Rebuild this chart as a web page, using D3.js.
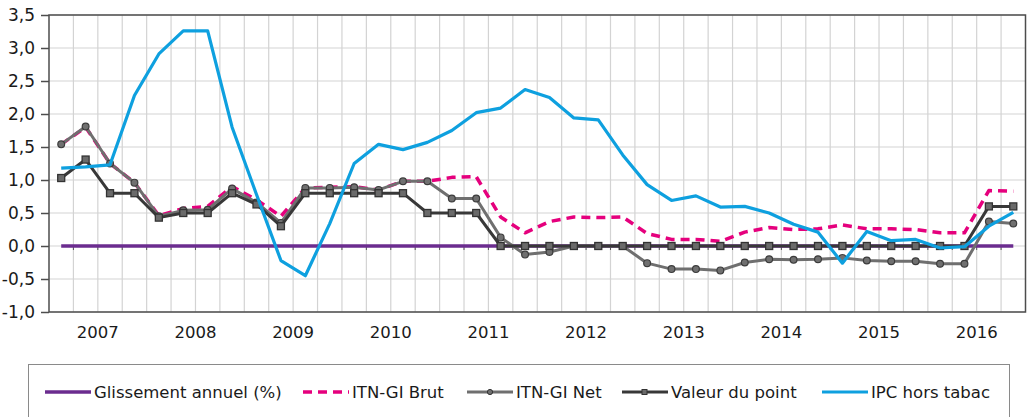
<!DOCTYPE html>
<html>
<head>
<meta charset="utf-8">
<script src="https://cdn.jsdelivr.net/npm/d3@7"></script>
<style>
  body { margin: 0; background: #fff; }
  svg text { font-family: "DejaVu Sans", sans-serif; fill: #1a1a1a; }
</style>
</head>
<body>
<svg width="1031" height="417"></svg>
<script>
// quarterly data, 2007 T1 -> 2016 T4
const years = [2007, 2008, 2009, 2010, 2011, 2012, 2013, 2014, 2015, 2016]
const quarters = ['T1', 'T2', 'T3', 'T4']

const glissement = [0, 0, 0, 0, 0, 0, 0, 0, 0, 0, 0, 0, 0, 0, 0, 0, 0, 0, 0, 0,
  0, 0, 0, 0, 0, 0, 0, 0, 0, 0, 0, 0, 0, 0, 0, 0, 0, 0, 0, 0]
const itnBrut = [1.54, 1.80, 1.25, 0.96, 0.46, 0.57, 0.60, 0.90, 0.70, 0.45,
  0.88, 0.89, 0.90, 0.85, 0.98, 0.98, 1.04, 1.05, 0.44, 0.20,
  0.37, 0.44, 0.43, 0.44, 0.19, 0.10, 0.10, 0.07, 0.21, 0.28,
  0.25, 0.26, 0.32, 0.26, 0.26, 0.25, 0.20, 0.20, 0.84, 0.83]
const itnNet = [1.54, 1.81, 1.25, 0.96, 0.45, 0.54, 0.55, 0.87, 0.66, 0.35,
  0.88, 0.88, 0.89, 0.85, 0.98, 0.98, 0.72, 0.72, 0.13, -0.13,
  -0.09, 0.0, 0.0, 0.0, -0.26, -0.35, -0.35, -0.37, -0.25, -0.20,
  -0.21, -0.20, -0.18, -0.22, -0.23, -0.23, -0.27, -0.27, 0.37, 0.34]
const valeurPoint = [1.03, 1.31, 0.80, 0.80, 0.43, 0.50, 0.50, 0.80, 0.63, 0.30,
  0.80, 0.80, 0.80, 0.80, 0.80, 0.50, 0.50, 0.50, 0.0, 0.0,
  0.0, 0.0, 0.0, 0.0, 0.0, 0.0, 0.0, 0.0, 0.0, 0.0,
  0.0, 0.0, 0.0, 0.0, 0.0, 0.0, 0.0, 0.0, 0.60, 0.60]
const ipcHorsTabac = [1.18, 1.20, 1.23, 2.28, 2.91, 3.26, 3.26, 1.80, 0.78, -0.22,
  -0.45, 0.34, 1.25, 1.54, 1.46, 1.57, 1.75, 2.02, 2.09, 2.37,
  2.25, 1.94, 1.91, 1.38, 0.93, 0.69, 0.76, 0.59, 0.60, 0.50,
  0.33, 0.21, -0.26, 0.22, 0.08, 0.10, -0.03, -0.01, 0.30, 0.51]
const yTicks = [-1, -0.5, 0, 0.5, 1, 1.5, 2, 2.5, 3, 3.5]

const svg = d3.select('svg')
const margin = {top: 15, left: 49, right: 5.5, bottom: 105}
const w = +svg.attr('width') - margin.left - margin.right
const h = +svg.attr('height') - margin.top - margin.bottom

const cats = years.flatMap(y => quarters.map(q => y + q))

const x = d3.scaleBand().domain(cats).range([0, w])
const xIdx = d3.scaleLinear().domain([0, cats.length]).range([0, w])
const y = d3.scaleLinear().domain([-1, 3.5]).range([h, 0])

const g = svg.append('g').attr('transform', `translate(${margin.left},${margin.top})`)

// grid
g.append('g').selectAll('line').data(yTicks).enter().append('line')
  .attr('x1', 0).attr('x2', w)
  .attr('y1', d => y(d)).attr('y2', d => y(d))
  .attr('stroke', '#d3d3d3').attr('stroke-width', 1.2)
g.append('g').selectAll('line').data(d3.range(1, cats.length)).enter().append('line')
  .attr('x1', d => xIdx(d)).attr('x2', d => xIdx(d))
  .attr('y1', 0).attr('y2', h)
  .attr('stroke', '#d3d3d3').attr('stroke-width', 1.2)

// small ticks on the zero line
g.append('g').selectAll('line').data(d3.range(1, cats.length)).enter().append('line')
  .attr('x1', d => xIdx(d)).attr('x2', d => xIdx(d))
  .attr('y1', y(0)).attr('y2', y(0) + 4)
  .attr('stroke', '#555').attr('stroke-width', 1)

// frame
g.append('rect').attr('width', w).attr('height', h)
  .attr('fill', 'none').attr('stroke', '#4d4d4d').attr('stroke-width', 1.5)

// y axis
const yAxis = d3.axisLeft(y).tickValues(yTicks)
  .tickFormat(d => d3.format('.1f')(d).replace('.', ',').replace('−', '-'))
  .tickSize(8).tickPadding(6)
const yG = g.append('g').call(yAxis)
yG.select('.domain').remove()
yG.selectAll('.tick line').attr('stroke', '#4d4d4d').attr('stroke-width', 1.5)
yG.selectAll('.tick text').attr('font-size', 17).attr('fill', '#111')
  .style('font-family', '"DejaVu Sans", sans-serif')

// year labels
g.append('g').selectAll('text').data(years).enter().append('text')
  .attr('x', d => x(d + 'T3'))
  .attr('y', h + 26)
  .attr('text-anchor', 'middle')
  .attr('font-size', 16.5)
  .attr('fill', '#111')
  .text(d => d)

const cx = (d, i) => x(cats[i]) + x.bandwidth() / 2
const line = d3.line().x(cx).y(d => y(d))

const series = [
  {name: 'Glissement annuel (%)', data: glissement, color: '#6b2c8f', width: 3.5},
  {name: 'ITN-GI Brut', data: itnBrut, color: '#e5007d', width: 3.5, dash: '9,6'},
  {name: 'ITN-GI Net', data: itnNet, color: '#6f6f6f', width: 3, marker: 'circle'},
  {name: 'Valeur du point', data: valeurPoint, color: '#383838', width: 3, marker: 'square'},
  {name: 'IPC hors tabac', data: ipcHorsTabac, color: '#0ea0df', width: 3.2}
]

series.forEach(s => {
  g.append('path').datum(s.data)
    .attr('d', line)
    .attr('fill', 'none')
    .attr('stroke', s.color)
    .attr('stroke-width', s.width)
    .attr('stroke-dasharray', s.dash || null)
    .attr('stroke-linejoin', 'round')
  if (s.marker === 'circle') {
    g.append('g').selectAll('circle').data(s.data).enter().append('circle')
      .attr('cx', cx).attr('cy', d => y(d)).attr('r', 3.4)
      .attr('fill', '#707070').attr('stroke', '#3c3c3c').attr('stroke-width', 1.2)
  }
  if (s.marker === 'square') {
    g.append('g').selectAll('rect').data(s.data).enter().append('rect')
      .attr('x', (d, i) => cx(d, i) - 3.5).attr('y', d => y(d) - 3.5)
      .attr('width', 7).attr('height', 7)
      .attr('fill', '#6a6a6a').attr('stroke', '#333').attr('stroke-width', 1.3)
  }
})

// legend
const legend = svg.append('g')
legend.append('rect').attr('x', 28.5).attr('y', 364.5).attr('width', 981).attr('height', 70)
  .attr('fill', 'none').attr('stroke', '#8a8a8a').attr('stroke-width', 1)
const legendX = [45, 303, 467, 622, 822]
const ly = 392
series.forEach((s, i) => {
  const lx = legendX[i]
  legend.append('line').attr('x1', lx).attr('x2', lx + 46).attr('y1', ly).attr('y2', ly)
    .attr('stroke', s.color).attr('stroke-width', s.width)
    .attr('stroke-dasharray', s.dash || null)
  if (s.marker === 'circle') {
    legend.append('circle').attr('cx', lx + 23).attr('cy', ly).attr('r', 2.6)
      .attr('fill', '#707070').attr('stroke', '#333').attr('stroke-width', 1)
  }
  if (s.marker === 'square') {
    legend.append('rect').attr('x', lx + 20).attr('y', ly - 2.5).attr('width', 5).attr('height', 5)
      .attr('fill', '#6a6a6a').attr('stroke', '#333').attr('stroke-width', 1)
  }
  legend.append('text').attr('x', lx + 49).attr('y', ly + 6)
    .attr('font-size', 16.5).attr('fill', '#111').text(s.name)
})
</script>
</body>
</html>
